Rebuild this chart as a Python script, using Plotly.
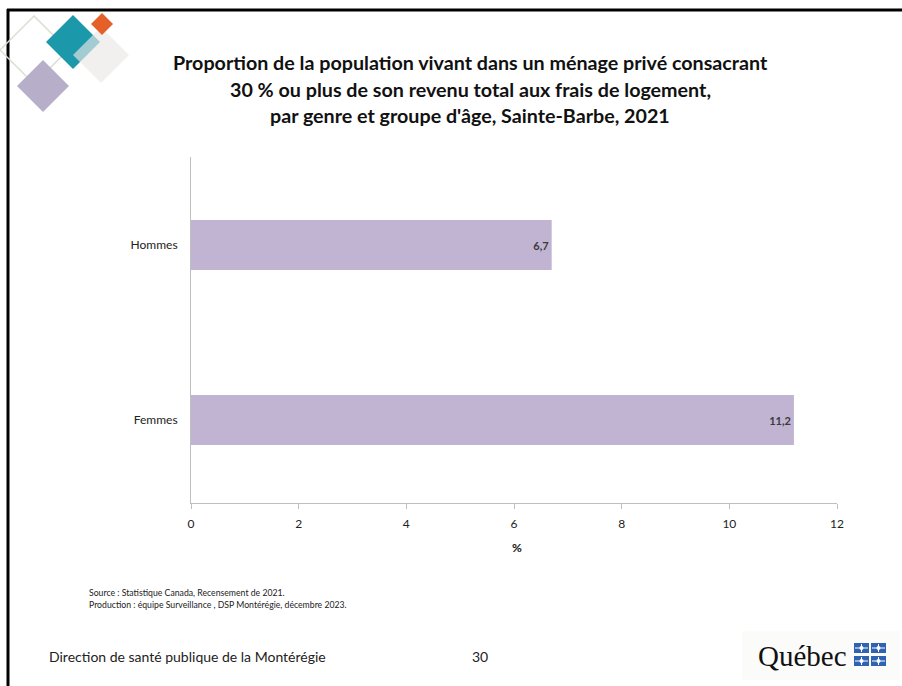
import plotly.graph_objects as go

# ---- data ----
categories = ["Hommes", "Femmes"]
values = [6.7, 11.2]
value_labels = ["6,7", "11,2"]
x_ticks = [0, 2, 4, 6, 8, 10, 12]

title_lines = [
    "Proportion de la population vivant dans un ménage privé consacrant",
    "30 % ou plus de son revenu total aux frais de logement,",
    "par genre et groupe d'âge, Sainte-Barbe, 2021",
]
source_lines = [
    "Source : Statistique Canada, Recensement de 2021.",
    "Production : équipe Surveillance , DSP Montérégie, décembre 2023.",
]

W, H = 902, 686
L, R, T, B = 191, 837, 157, 503  # plot area in pixels

FONT = "Lato, Carlito, Calibri, 'Open Sans', sans-serif"


def px(x):
    return (x - L) / (R - L)


def py(y):
    return (B - y) / (B - T)


fig = go.Figure()
fig.add_trace(go.Bar(
    y=categories, x=values, orientation="h",
    marker=dict(color="#c1b4d3", line=dict(width=0)),
    width=0.286,
    text=value_labels, textposition="inside", insidetextanchor="end",
    textfont=dict(family=FONT, size=11, color="#3a3a3a", weight="bold"),
    hoverinfo="skip",
))

shapes = []
annotations = []

# slide border (left and top)
shapes.append(dict(type="line", xref="paper", yref="paper",
                   x0=px(8), x1=px(8), y0=py(9), y1=py(700),
                   line=dict(color="black", width=3)))
shapes.append(dict(type="line", xref="paper", yref="paper",
                   x0=px(7), x1=px(910), y0=py(10), y1=py(10),
                   line=dict(color="black", width=3)))


def diamond(cx, cy, r, fill, line_color=None, opacity=1.0, lw=0):
    path = (f"M {px(cx)},{py(cy - r)} L {px(cx + r)},{py(cy)} "
            f"L {px(cx)},{py(cy + r)} L {px(cx - r)},{py(cy)} Z")
    return dict(type="path", xref="paper", yref="paper", path=path,
                fillcolor=fill, opacity=opacity,
                line=dict(color=line_color or fill, width=lw))


# logo diamonds
shapes.append(diamond(34, 50, 34, "rgba(0,0,0,0)", line_color="#d9dfd2", lw=1.5))
shapes.append(diamond(43, 86, 26, "#b7afc9"))
shapes.append(diamond(73, 42, 27, "#1b98a9"))
shapes.append(diamond(101, 55, 28, "#ebe8e6", opacity=0.65))
shapes.append(diamond(102, 24, 11, "#e55f29"))

# Québec logo background and flags
shapes.append(dict(type="rect", xref="paper", yref="paper",
                   x0=px(742), x1=px(900), y0=py(631), y1=py(680),
                   fillcolor="#fbfbfa", line=dict(width=0), layer="below"))
for fx, fy in [(854, 643), (871, 643), (854, 656), (871, 656)]:
    shapes.append(dict(type="rect", xref="paper", yref="paper",
                       x0=px(fx), x1=px(fx + 15), y0=py(fy), y1=py(fy + 10),
                       fillcolor="#2f62b0", line=dict(width=0)))
    shapes.append(dict(type="line", xref="paper", yref="paper",
                       x0=px(fx + 7.5), x1=px(fx + 7.5), y0=py(fy + 1), y1=py(fy + 9),
                       line=dict(color="white", width=1)))
    shapes.append(dict(type="line", xref="paper", yref="paper",
                       x0=px(fx + 1), x1=px(fx + 14), y0=py(fy + 5), y1=py(fy + 5),
                       line=dict(color="white", width=1)))
    shapes.append(dict(type="circle", xref="paper", yref="paper",
                       x0=px(fx + 5.5), x1=px(fx + 9.5), y0=py(fy + 3), y1=py(fy + 7),
                       fillcolor="white", line=dict(width=0)))

annotations.append(dict(text="Québec", xref="paper", yref="paper",
                        x=px(756), y=py(656), xanchor="left", yanchor="middle",
                        showarrow=False,
                        font=dict(family="'Liberation Serif', serif", size=29, color="#111111")))

# title
for i, line in enumerate(title_lines):
    annotations.append(dict(text=f"<b>{line}</b>", xref="paper", yref="paper",
                            x=px(470), y=py(63 + 26.5 * i), xanchor="center", yanchor="middle",
                            showarrow=False,
                            font=dict(family=FONT, size=19.7, color="#111111")))

# x axis title
annotations.append(dict(text="<b>%</b>", xref="paper", yref="paper",
                        x=px(517), y=py(547), xanchor="center", yanchor="middle",
                        showarrow=False, font=dict(family=FONT, size=12, color="#111111")))

# source
for i, line in enumerate(source_lines):
    annotations.append(dict(text=line, xref="paper", yref="paper",
                            x=px(87), y=py(592 + 12 * i), xanchor="left", yanchor="middle",
                            showarrow=False, font=dict(family=FONT, size=8.7, color="#222222")))

# footer
annotations.append(dict(text="Direction de santé publique de la Montérégie", xref="paper", yref="paper",
                        x=px(47), y=py(656), xanchor="left", yanchor="middle",
                        showarrow=False, font=dict(family=FONT, size=14, color="#222222")))
annotations.append(dict(text="30", xref="paper", yref="paper",
                        x=px(480), y=py(656), xanchor="center", yanchor="middle",
                        showarrow=False, font=dict(family=FONT, size=14, color="#222222")))

fig.update_layout(
    width=W, height=H,
    margin=dict(l=L, r=W - R, t=T, b=H - B, pad=0),
    paper_bgcolor="white", plot_bgcolor="white",
    showlegend=False,
    xaxis=dict(range=[0, 12], tickvals=x_ticks, ticktext=[str(t) for t in x_ticks],
               showgrid=False, zeroline=False, showline=True, linecolor="#bfbfbf", linewidth=1,
               ticks="outside", ticklen=5, tickcolor="#bfbfbf", ticklabelstandoff=5,
               tickfont=dict(family=FONT, size=12, color="#222222"), fixedrange=True),
    yaxis=dict(categoryorder="array", categoryarray=categories[::-1],
               range=[-0.474, 1.503],
               showgrid=False, zeroline=False, showline=True, linecolor="#bfbfbf", linewidth=1,
               ticks="", ticklen=0, ticklabelstandoff=10,
               tickfont=dict(family=FONT, size=12, color="#222222"), fixedrange=True),
    shapes=shapes, annotations=annotations,
)

fig.write_html("out.html", config={"displayModeBar": False},
               post_script="document.body.style.margin='0';document.body.style.padding='0';")
